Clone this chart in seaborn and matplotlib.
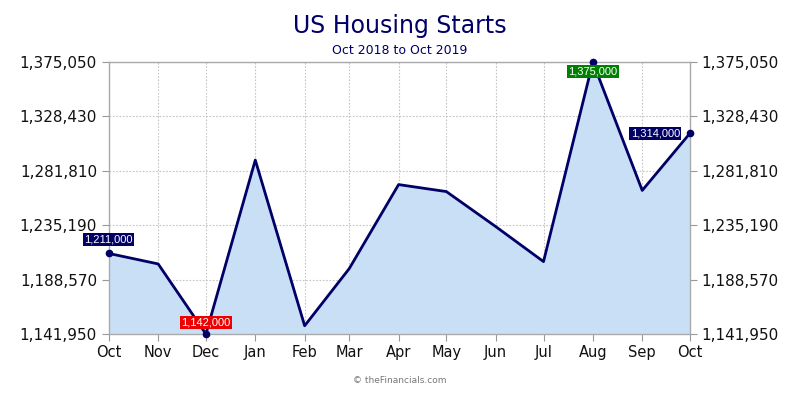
import matplotlib
matplotlib.use("Agg")
import matplotlib.pyplot as plt
import matplotlib.ticker as mticker
import numpy as np
import pandas as pd
import seaborn as sns

months = ["2018-10-01", "2018-11-01", "2018-12-01", "2019-01-01", "2019-02-01",
          "2019-03-01", "2019-04-01", "2019-05-01", "2019-06-01", "2019-07-01",
          "2019-08-01", "2019-09-01", "2019-10-01"]
starts = [1211000, 1202000, 1142000, 1291000, 1149000, 1198000, 1270000,
          1264000, 1234000, 1204000, 1375000, 1265000, 1314000]
month_labels = ["Oct", "Nov", "Dec", "Jan", "Feb", "Mar", "Apr", "May",
                "Jun", "Jul", "Aug", "Sep", "Oct"]
y_ticks = [1141950, 1188570, 1235190, 1281810, 1328430, 1375050]

navy = "#000066"
fill = "#c8dff6"
grid_col = "#c4c4c4"

df = pd.DataFrame({"date": pd.to_datetime(months), "starts": starts})

sns.set_style("white")
plt.rcParams["font.family"] = ["DejaVu Sans"]

fig = plt.figure(figsize=(8, 4), dpi=100)
ax = fig.add_axes([0.136, 0.165, 0.7265, 0.68])

ax.fill_between(df["date"], df["starts"], y_ticks[0], color=fill, zorder=2)
sns.lineplot(data=df, x="date", y="starts", color=navy, linewidth=2, ax=ax, zorder=3)

ax.set_xlim(df["date"].iloc[0], df["date"].iloc[-1])
ax.set_ylim(y_ticks[0], y_ticks[-1])
ax.set_xticks(df["date"])
ax.set_xticklabels(month_labels)
ax.set_yticks(y_ticks)
ax.yaxis.set_major_formatter(mticker.FuncFormatter(lambda v, p: f"{v:,.0f}"))
ax.tick_params(axis="y", which="both", left=True, right=True, labelleft=True,
               labelright=True, length=5, color="#999999", labelsize=11, colors="#111111")
ax.tick_params(axis="x", bottom=True, length=5, color="#999999", labelsize=10.5,
               colors="#111111", pad=3)
ax.set_xlabel("")
ax.set_ylabel("")
ax.grid(True, color=grid_col, linestyle=(0, (1.5, 1.5)), linewidth=0.8, zorder=1)
ax.set_axisbelow(True)
for side in ["left", "right", "bottom", "top"]:
    ax.spines[side].set_color("#aaaaaa")
    ax.spines[side].set_linewidth(1)

# highlighted points: first, min, max, last
i_min = int(np.argmin(starts))
i_max = int(np.argmax(starts))
marks = [(0, navy, (0, 10)), (i_min, "#ee0000", (0, 8)),
         (i_max, "#008000", (0, -7)), (len(starts) - 1, navy, (-25, 0))]
for i, col, off in marks:
    d = df["date"].iloc[i]
    v = starts[i]
    ax.plot(d, v, "o", color=navy, markersize=4.5, zorder=5, clip_on=False)
    ax.annotate(f"{v:,}", (d, v), xytext=off, textcoords="offset points",
                ha="center", va="center", color="white", fontsize=8,
                family="Liberation Sans", zorder=6, annotation_clip=False,
                bbox=dict(boxstyle="square,pad=0.12", fc=col, ec="none"))

fig.text(0.5, 0.935, "US Housing Starts", ha="center", va="center",
         fontsize=17, color=navy)
fig.text(0.5, 0.875, "Oct 2018 to Oct 2019", ha="center", va="center",
         fontsize=9, color=navy)
fig.text(0.5, 0.048, "© theFinancials.com", ha="center", va="center",
         fontsize=6.5, color="#777777")

fig.savefig("out.png", dpi=100)
